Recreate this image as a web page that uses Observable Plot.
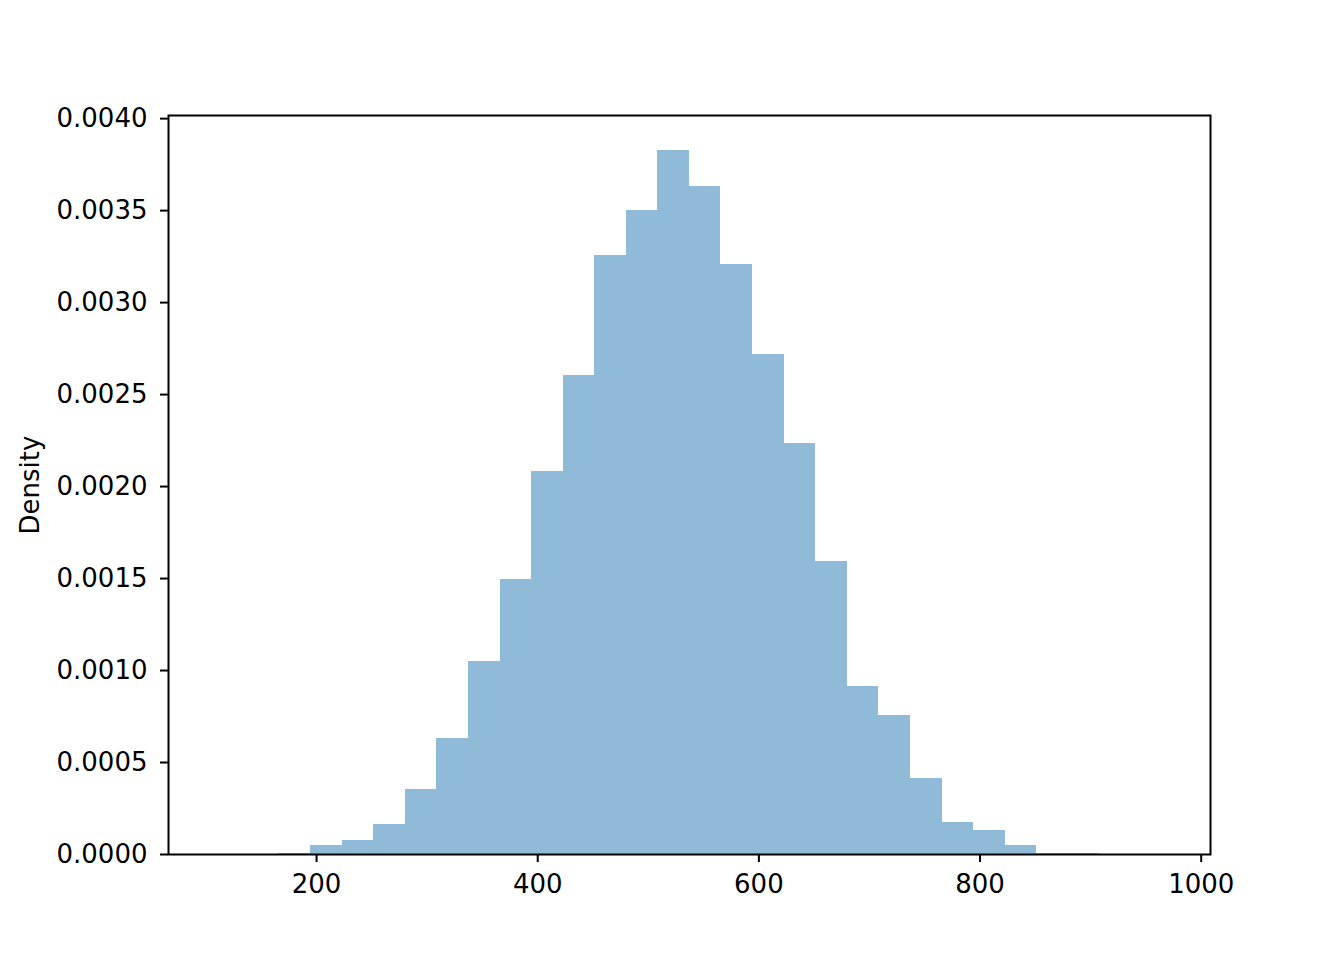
<!DOCTYPE html>
<html>
<head>
<meta charset="utf-8">
<script src="https://cdn.jsdelivr.net/npm/d3@7"></script>
<script src="https://cdn.jsdelivr.net/npm/@observablehq/plot@0.6"></script>
<style>
  html, body { margin: 0; padding: 0; background: #fff; }
  svg { font-family: "DejaVu Sans", sans-serif; }
</style>
</head>
<body>
<div id="chart"></div>
<script>
// Bin edges (31 edges for 30 bins)
const binEdges = [108.9, 137.5, 166.0, 194.6, 223.1, 251.7, 280.2, 308.8, 337.3, 365.9,
                  394.4, 423.0, 451.5, 480.1, 508.6, 537.2, 565.7, 594.3, 622.8, 651.4,
                  679.9, 708.5, 737.0, 765.6, 794.1, 822.7, 851.2, 879.8, 908.3, 936.9, 965.4];
// Density of each bin
const densities = [0, 0, 0.000008, 0.000049, 0.000076, 0.000165, 0.000353, 0.00063, 0.00105, 0.001495,
                   0.002082, 0.002603, 0.003255, 0.0035, 0.003826, 0.00363, 0.003207, 0.002717, 0.002234, 0.001592,
                   0.000913, 0.000755, 0.000413, 0.000174, 0.00013, 0.000049, 0.000007, 0.000007, 0, 0];
const xTicks = [200, 400, 600, 800, 1000];
const yTicks = [0, 0.0005, 0.001, 0.0015, 0.002, 0.0025, 0.003, 0.0035, 0.004];

const bins = densities.map((d, i) => ({x1: binEdges[i], x2: binEdges[i + 1], density: d}));

const chart = Plot.plot({
  width: 1344,
  height: 960,
  marginLeft: 168,
  marginRight: 134,
  marginTop: 115,
  marginBottom: 106,
  style: {fontFamily: "DejaVu Sans", fontSize: "26px", background: "white", color: "black"},
  x: {domain: [66.1, 1008.4], label: null},
  y: {domain: [0, 0.004017], label: "Density"},
  marks: [
    Plot.rectY(bins, {x1: "x1", x2: "x2", y: "density", fill: "#1f77b4", fillOpacity: 0.5, inset: 0, shapeRendering: "crispEdges"}),
    Plot.frame({stroke: "black", strokeWidth: 2}),
    Plot.axisX({ticks: xTicks, tickFormat: "d", tickSize: 8, tickPadding: 12, strokeWidth: 2, label: null}),
    Plot.axisY({ticks: yTicks, tickFormat: ".4f", tickSize: 8, tickPadding: 13, strokeWidth: 2,
                label: "Density", labelAnchor: "center", labelArrow: "none", labelOffset: 148})
  ]
});
document.getElementById("chart").appendChild(chart);
</script>
</body>
</html>
